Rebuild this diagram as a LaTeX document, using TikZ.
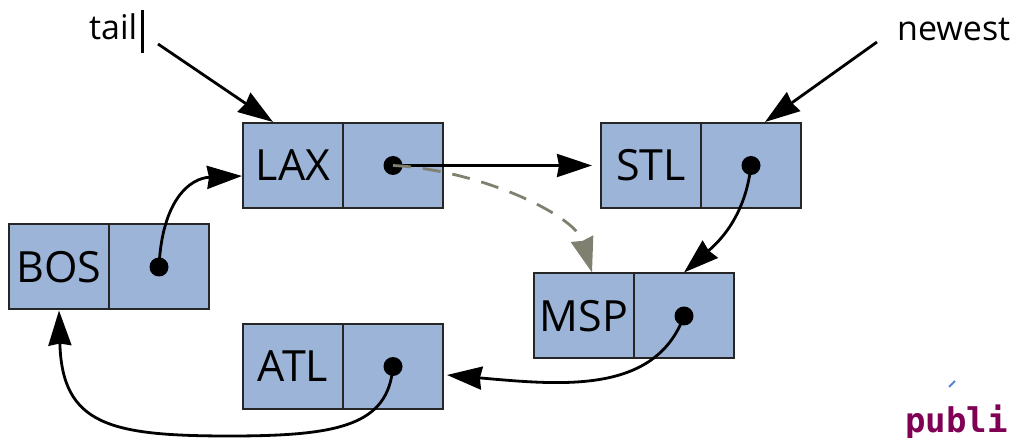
\documentclass[tikz,border=0pt]{standalone}
\usepackage{fontspec}
\setmainfont{Open Sans}
\newfontfamily\codefont{DejaVu Sans Mono}
\usetikzlibrary{arrows.meta,calc}
\definecolor{cellblue}{RGB}{155,180,216}
\definecolor{movegray}{RGB}{128,128,112}
\definecolor{keyword}{RGB}{127,0,85}
\definecolor{speckblue}{RGB}{90,130,220}

\begin{document}
\begin{tikzpicture}[x=1pt,y=-1pt,
  cell/.style={draw=black!85, fill=cellblue, line width=2pt,
    minimum width=100pt, minimum height=85pt, inner sep=0pt,
    font=\fontsize{43}{43}\selectfont},
  pointer/.style={fill=black, circle, minimum size=19pt, inner sep=0pt},
  link/.style={line width=2.8pt, -{Stealth[length=35pt,width=23pt,inset=2pt]}},
  moved/.style={link, draw=movegray, dash pattern=on 18pt off 12pt},
  label/.style={font=\fontsize{34}{34}\selectfont, inner sep=0pt}
]
\useasboundingbox (0,0) rectangle (1013,438);

% list cells: key half and pointer half
\node[cell] (bos) at (59,267) {BOS};
\node[cell] (bosp) at (159,267) {};
\node[cell] (lax) at (293,165.5) {LAX};
\node[cell] (laxp) at (393,165.5) {};
\node[cell] (stl) at (651,165.5) {STL};
\node[cell] (stlp) at (751,165.5) {};
\node[cell] (msp) at (584,316) {MSP};
\node[cell] (mspp) at (684,316) {};
\node[cell] (atl) at (293,366.5) {ATL};
\node[cell] (atlp) at (393,366.5) {};

% next-pointer dots
\node[pointer] (bosd) at (bosp.center) {};
\node[pointer] (laxd) at (laxp.center) {};
\node[pointer] (stld) at (stlp.center) {};
\node[pointer] (mspd) at (mspp.center) {};
\node[pointer] (atld) at (atlp.center) {};

% external references
\node[label, anchor=base west] (tail) at (89,40) {tail};
\node[label, anchor=base west] (newest) at (897,41) {newest};
\draw[line width=2.2pt] (142.5,10) -- (142.5,53);

\coordinate (tailfrom) at (158,44);
\coordinate (tailto) at ($(lax.north)+(-20,0)$);
\coordinate (newfrom) at (877,42);
\coordinate (newto) at ($(stlp.north)+(14,0)$);
\draw[link] (tailfrom) -- (tailto);
\draw[link] (newfrom) -- (newto);

% links between cells
\coordinate (laxin) at ($(lax.west)+(0,10.5)$);
\coordinate (mspin) at ($(msp.north)+(8,0)$);
\coordinate (atlin) at ($(atlp.east)+(3,8.5)$);
\draw[link, shorten >=8pt] (laxd.center) -- (stl.west);
\draw[moved] (laxd.center) .. controls (480,170) and (575,215) .. (mspin);
\draw[link] (stld.center) .. controls (745,220) and (715,245) .. (mspp.north);
\draw[link] (mspd.center) .. controls (655,395) and (560,385) .. (atlin);
\draw[link] (atld.center) .. controls (388,425) and (340,436) .. (230,436)
  .. controls (110,436) and (62,425) .. (bos.south);
\draw[link] (bosd.center) .. controls (162,200) and (190,178) .. (laxin);

% code fragment at the lower right corner
\draw[speckblue, line width=2pt] (949,387) -- (955,381);
\node[anchor=base west, inner sep=0pt, text=keyword,
  font=\codefont\bfseries\fontsize{34}{34}\selectfont] (code) at (905,433) {publi};
\end{tikzpicture}
\end{document}
